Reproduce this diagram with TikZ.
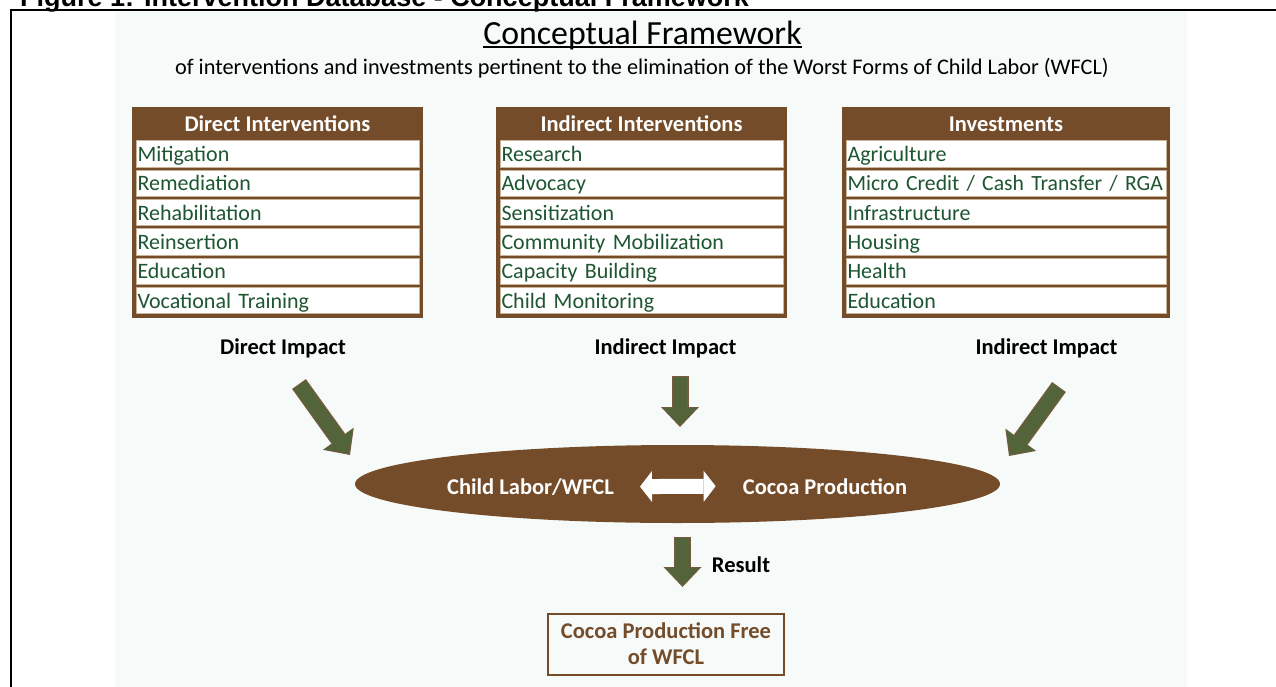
\documentclass[tikz,border=0pt]{standalone}
\usepackage{fontspec}
\setmainfont{Carlito}
\newfontfamily\capfont{Liberation Sans}
\usepackage{tikz}
\usetikzlibrary{shapes.geometric,arrows.meta}

\definecolor{cocoa}{HTML}{754C29}
\definecolor{leaf}{HTML}{1E5631}
\definecolor{arrowgreen}{HTML}{53633A}
\definecolor{arrowrim}{HTML}{7A5A40}
\definecolor{paper}{HTML}{F6FAF9}
\definecolor{rowline}{HTML}{C9B49A}

\tikzset{
	panel/.style={fill=cocoa, inner sep=0pt, minimum height=211pt},
	head/.style={anchor=base, inner sep=0pt, text=white, font=\fontsize{22.5}{26}\selectfont\bfseries},
	listrow/.style={fill=white, draw=rowline, line width=0.8pt, minimum height=26.5pt, inner xsep=1.5pt, inner ysep=0pt, text height=18pt, text depth=3pt, text width=#1, align=left, text=leaf, font=\fontsize{22}{26}\selectfont},
	impact/.style={anchor=base, inner sep=0pt, font=\fontsize{22.5}{26}\selectfont\bfseries},
	rim/.style={draw=arrowrim, line width=17pt, -{Triangle[length=20pt,width=38pt,line width=0pt]}},
	fat/.style={draw=arrowgreen, line width=14.5pt, shorten <=1pt, shorten >=1.5pt, -{Triangle[length=18pt,width=35pt,line width=0pt]}},
}

\begin{document}
\begin{tikzpicture}[x=1pt, y=-1pt]
	\clip (0, 0) rectangle (1276, 687);
	\fill[paper] (115, 11) rectangle (1187, 687);
	\draw[line width=2pt] (11, 687) -- (11, 10) -- (1276, 10);
	\node[anchor=base west, inner sep=0pt, font=\capfont\fontsize{27}{30}\selectfont\bfseries] (cap) at (20, 7) {Figure 1: Intervention Database - Conceptual Framework};
	%%
	\node[anchor=base, inner sep=0pt, font=\fontsize{33.8}{38}\selectfont] (title) at (642.5, 45) {Conceptual Framework};
	\draw[line width=1.3pt] ([yshift=-2pt]title.base west) -- ([yshift=-2pt]title.base east);
	\node[anchor=base, inner sep=0pt, font=\fontsize{22.3}{26}\selectfont] (sub) at (642, 75) {of interventions and investments pertinent to the elimination of the Worst Forms of Child Labor (WFCL)};
	%%
	\node[panel, minimum width=291pt] (dbox) at (277.5, 212.5) {};
	\node[head] (dhead) at (277.5, 132) {Direct Interventions};
	\node[listrow=280pt] (d1) at (277.5, 154) {Mitigation};
	\node[listrow=280pt] (d2) at (277.5, 183.3) {Remediation};
	\node[listrow=280pt] (d3) at (277.5, 212.6) {Rehabilitation};
	\node[listrow=280pt] (d4) at (277.5, 241.9) {Reinsertion};
	\node[listrow=280pt] (d5) at (277.5, 271.2) {Education};
	\node[listrow=280pt] (d6) at (277.5, 300.5) {Vocational Training};
	%%
	\node[panel, minimum width=291pt] (ibox) at (641.5, 212.5) {};
	\node[head] (ihead) at (641.5, 132) {Indirect Interventions};
	\node[listrow=280pt] (i1) at (641.5, 154) {Research};
	\node[listrow=280pt] (i2) at (641.5, 183.3) {Advocacy};
	\node[listrow=280pt] (i3) at (641.5, 212.6) {Sensitization};
	\node[listrow=280pt] (i4) at (641.5, 241.9) {Community Mobilization};
	\node[listrow=280pt] (i5) at (641.5, 271.2) {Capacity Building};
	\node[listrow=280pt] (i6) at (641.5, 300.5) {Child Monitoring};
	%%
	\node[panel, minimum width=328pt] (vbox) at (1006, 212.5) {};
	\node[head] (vhead) at (1006, 132) {Investments};
	\node[listrow=317pt] (v1) at (1006, 154) {Agriculture};
	\node[listrow=317pt, font=\fontsize{21.7}{26}\selectfont] (v2) at (1006, 183.3) {\mbox{Micro Credit / Cash Transfer / RGA}};
	\node[listrow=317pt] (v3) at (1006, 212.6) {Infrastructure};
	\node[listrow=317pt] (v4) at (1006, 241.9) {Housing};
	\node[listrow=317pt] (v5) at (1006, 271.2) {Health};
	\node[listrow=317pt] (v6) at (1006, 300.5) {Education};
	%%
	\node[impact] (dimp) at (283, 354) {Direct Impact};
	\node[impact] (iimp) at (665.5, 354) {Indirect Impact};
	\node[impact] (vimp) at (1046.5, 354) {Indirect Impact};
	%%
	\coordinate (dtail) at (299, 384);
	\coordinate (dtip) at (350, 455);
	\coordinate (itail) at (680, 376);
	\coordinate (itip) at (680, 427);
	\coordinate (vtail) at (1059, 387);
	\coordinate (vtip) at (1009, 456);
	\draw[rim] (dtail) -- (dtip);
	\draw[fat] (dtail) -- (dtip);
	\draw[rim] (itail) -- (itip);
	\draw[fat] (itail) -- (itip);
	\draw[rim] (vtail) -- (vtip);
	\draw[fat] (vtail) -- (vtip);
	%%
	\node[ellipse, fill=cocoa, inner sep=0pt, minimum width=645pt, minimum height=78pt] (core) at (677.5, 484) {};
	\node[impact, text=white] (cl) at (530.5, 494) {Child Labor/WFCL};
	\node[impact, text=white] (cp) at (825, 494) {Cocoa Production};
	\draw[white, line width=15pt, {Triangle[length=12pt,width=31pt,line width=0pt]}-{Triangle[length=12pt,width=31pt,line width=0pt]}] ([xshift=26pt]cl.east) -- ([xshift=-27pt]cp.west);
	%%
	\coordinate (rtail) at (682.5, 537);
	\coordinate (rtip) at (682.5, 587);
	\draw[rim] (rtail) -- (rtip);
	\draw[fat] (rtail) -- (rtip);
	\node[impact] (res) at (741, 572) {Result};
	\node[draw=cocoa, line width=2pt, minimum width=236pt, minimum height=61pt, align=center, text=cocoa, font=\fontsize{22.5}{26}\selectfont\bfseries] (out) at (666, 644) {Cocoa Production Free\\of WFCL};
\end{tikzpicture}
\end{document}
